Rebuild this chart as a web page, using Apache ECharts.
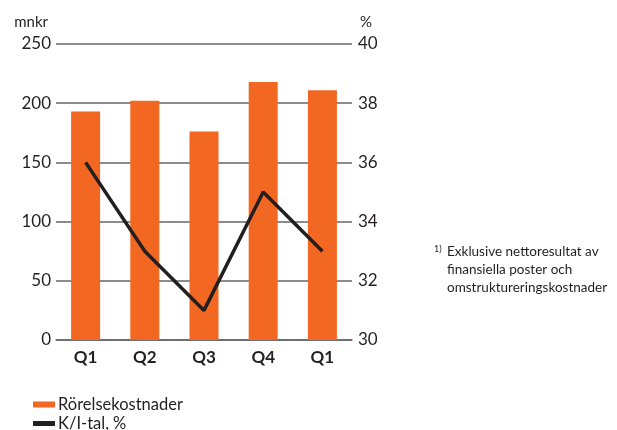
<!DOCTYPE html>
<html><head><meta charset="utf-8">
<script src="https://cdn.jsdelivr.net/npm/echarts@6/dist/echarts.min.js"></script>
<style>html,body{margin:0;padding:0;background:#fff}#c{width:617px;height:430px}</style>
</head><body><div id="c"></div>
<script>
const categories = ['Q1','Q2','Q3','Q4','Q1'];
const costs = [193, 202, 176, 218, 211];
const kiRatio = [36, 33, 31, 35, 33];
const leftTicks = {min:0, max:250, interval:50};
const rightTicks = {min:30, max:40, interval:2};

const chart = echarts.init(document.getElementById('c'), null, {renderer:'canvas'});
const font = 'Lato, "Noto Sans", sans-serif';
const legendText = {fontSize:16.5, color:'#231f20', fontFamily:font, padding:[0,0,0,-2]};
chart.setOption({
  animation:false,
  textStyle:{fontFamily:font},
  grid:{left:56, right:265, top:44, bottom:90},
  xAxis:{type:'category', data:categories,
    axisLine:{show:true, lineStyle:{color:'#666', width:1.5}}, axisTick:{show:false},
    axisLabel:{fontSize:17, fontWeight:'bold', color:'#231f20', margin:9, fontFamily:font}},
  yAxis:[
    {type:'value', min:leftTicks.min, max:leftTicks.max, interval:leftTicks.interval,
     name:'mnkr', nameLocation:'end', nameGap:14, nameTextStyle:{fontSize:15, color:'#231f20', align:'right', padding:[0,8,0,0]},
     axisLine:{show:false}, axisTick:{show:false},
     axisLabel:{fontSize:17, color:'#231f20', margin:5},
     splitLine:{show:true, lineStyle:{color:'#666', width:1.5}}},
    {type:'value', min:rightTicks.min, max:rightTicks.max, interval:rightTicks.interval, position:'right',
     name:'%', nameLocation:'end', nameGap:14, nameTextStyle:{fontSize:15, color:'#231f20', align:'left', padding:[0,0,0,8]},
     axisLine:{show:false}, axisTick:{show:false},
     axisLabel:{fontSize:17, color:'#231f20', margin:6},
     splitLine:{show:false}}
  ],
  legend:[
    {left:33, top:396, padding:0, itemWidth:22, itemHeight:6, textStyle:legendText,
     data:[{name:'Rörelsekostnader', icon:'rect'}]},
    {left:33, top:415, padding:0, itemWidth:22, itemHeight:5, textStyle:legendText,
     data:[{name:'K/I-tal, %', icon:'rect', itemStyle:{color:'#231f20'}}]}
  ],
  series:[
    {name:'Rörelsekostnader', type:'bar', data:costs, barWidth:29, itemStyle:{color:'#f26722'}},
    {name:'K/I-tal, %', type:'line', yAxisIndex:1, data:kiRatio, symbol:'none',
     lineStyle:{color:'#231f20', width:3.5}, itemStyle:{color:'#231f20'}}
  ],
  graphic:[
    {type:'text', left:434, top:245, style:{text:'1)', fontSize:9, fill:'#231f20', fontFamily:font}},
    {type:'text', left:447, top:245, style:{text:'Exklusive nettoresultat av', fontSize:13.5, fill:'#231f20', fontFamily:font}},
    {type:'text', left:447, top:263, style:{text:'finansiella poster och', fontSize:13.5, fill:'#231f20', fontFamily:font}},
    {type:'text', left:447, top:281, style:{text:'omstruktureringskostnader', fontSize:13.5, fill:'#231f20', fontFamily:font}}
  ]
});
</script></body></html>
